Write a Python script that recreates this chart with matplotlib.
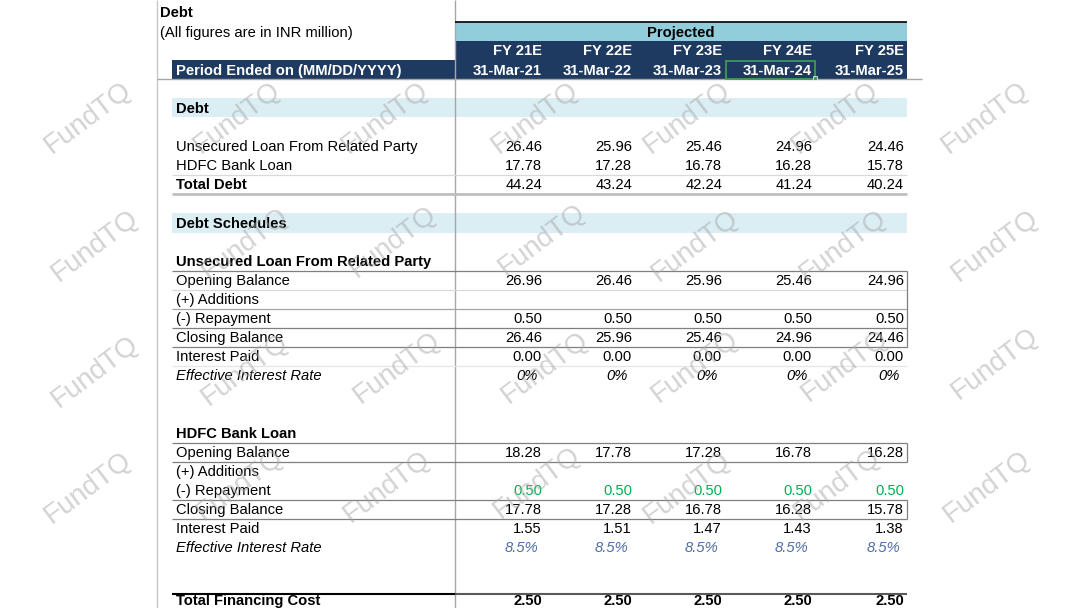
import matplotlib
matplotlib.use('Agg')
import matplotlib.pyplot as plt
from matplotlib.patches import Rectangle

plt.rcParams['font.family'] = ['Liberation Sans', 'DejaVu Sans']

# column headers
years = ['FY 21E', 'FY 22E', 'FY 23E', 'FY 24E', 'FY 25E']
dates = ['31-Mar-21', '31-Mar-22', '31-Mar-23', '31-Mar-24', '31-Mar-25']

# debt summary
unsecuredDebt = [26.46, 25.96, 25.46, 24.96, 24.46]
hdfcDebt = [17.78, 17.28, 16.78, 16.28, 15.78]
totalDebt = [44.24, 43.24, 42.24, 41.24, 40.24]

# unsecured loan schedule
unsecuredOpening = [26.96, 26.46, 25.96, 25.46, 24.96]
unsecuredRepayment = [0.50, 0.50, 0.50, 0.50, 0.50]
unsecuredClosing = [26.46, 25.96, 25.46, 24.96, 24.46]
unsecuredInterest = [0.00, 0.00, 0.00, 0.00, 0.00]
unsecuredRate = [0, 0, 0, 0, 0]

# hdfc loan schedule
hdfcOpening = [18.28, 17.78, 17.28, 16.78, 16.28]
hdfcRepayment = [0.50, 0.50, 0.50, 0.50, 0.50]
hdfcClosing = [17.78, 17.28, 16.78, 16.28, 15.78]
hdfcInterest = [1.55, 1.51, 1.47, 1.43, 1.38]
hdfcRate = [8.5, 8.5, 8.5, 8.5, 8.5]

totalFinancingCost = [2.50, 2.50, 2.50, 2.50, 2.50]

NAVY = '#1F3A60'
PROJ = '#92CDDC'
BAND = '#DAEEF3'
DARK = '#7F7F7F'
LIGHT = '#D9D9D9'
FS = 10.6

COL_LEFT = 455
COL_RIGHT = [545, 635, 725, 815, 907]
LABEL_X = 176

fig = plt.figure(figsize=(10.8, 6.08), dpi=100)
ax = fig.add_axes([0, 0, 1, 1])
ax.set_xlim(0, 1080)
ax.set_ylim(608, 0)
ax.axis('off')


def hline(y, x0, x1, color=DARK, lw=0.9):
	ax.plot([x0, x1], [y, y], color=color, lw=lw, solid_capstyle='butt', zorder=3)


def vline(x, y0, y1, color=DARK, lw=0.9):
	ax.plot([x, x], [y0, y1], color=color, lw=lw, solid_capstyle='butt', zorder=3)


def band(y0, y1, x0, x1, color):
	ax.add_patch(Rectangle((x0, y0), x1 - x0, y1 - y0, facecolor=color, edgecolor='none', zorder=1))


def drawRow(y, label, values=None, fmt='{:.2f}', weight='normal', style='normal', color='black', labelWeight=None, offset=3):
	y = y + 1
	if labelWeight is None:
		labelWeight = weight
	ax.text(LABEL_X, y, label, fontsize=FS, fontweight=labelWeight, fontstyle=style, va='center', ha='left', zorder=4)
	if values is None:
		return
	for right, v in zip(COL_RIGHT, values):
		ax.text(right - offset, y, fmt.format(v), fontsize=FS, fontweight=weight, fontstyle=style,
			color=color, va='center', ha='right', zorder=4)


# sheet frame lines
vline(157, 0, 608, color='#C8C8C8', lw=1.0)
vline(COL_LEFT, 0, 608, color='#A6A6A6', lw=1.0)
hline(79, 157, 922, color='#A6A6A6', lw=1.0)

# title block
ax.text(160, 13, 'Debt', fontsize=FS, fontweight='bold', va='center', ha='left')
ax.text(160, 33, '(All figures are in INR million)', fontsize=FS, va='center', ha='left')

# header
band(22, 41, COL_LEFT, 907, PROJ)
hline(21.5, COL_LEFT, 907, color='black', lw=1.2)
ax.text(681, 33, 'Projected', fontsize=FS, fontweight='bold', va='center', ha='center', zorder=4)
band(41, 79, COL_LEFT, 907, NAVY)
band(60, 79, 172, COL_LEFT, NAVY)
ax.text(LABEL_X, 71, 'Period Ended on (MM/DD/YYYY)', fontsize=FS, fontweight='bold', color='white', va='center', ha='left', zorder=4)
for right, yr, dt in zip(COL_RIGHT, years, dates):
	ax.text(right - 3, 51, yr, fontsize=FS, fontweight='bold', color='white', va='center', ha='right', zorder=4)
	ax.text(right - 3, 71, dt, fontsize=FS, fontweight='bold', color='white', va='center', ha='right', zorder=4)

# selected cell
ax.add_patch(Rectangle((726, 61), 89, 17.5, fill=False, edgecolor='#3E9A55', lw=1.3, zorder=5))
ax.add_patch(Rectangle((813, 76), 4, 4, facecolor='#3E9A55', edgecolor='white', lw=0.5, zorder=6))

# debt summary
band(98, 117, 172, 907, BAND)
drawRow(108, 'Debt', weight='bold')
drawRow(146, 'Unsecured Loan From Related Party', unsecuredDebt)
drawRow(165, 'HDFC Bank Loan', hdfcDebt)
hline(175, 172, 907, color=LIGHT)
drawRow(184, 'Total Debt', totalDebt, labelWeight='bold')
hline(194, 172, 907, color='#BFBFBF', lw=2.0)

# debt schedules
band(213, 233, 172, 907, BAND)
drawRow(223, 'Debt Schedules', weight='bold')

drawRow(261, 'Unsecured Loan From Related Party', weight='bold')
hline(270.5, 172, 907)
drawRow(280, 'Opening Balance', unsecuredOpening)
hline(289.5, 172, 907, color=LIGHT)
drawRow(299, '(+) Additions')
hline(309, 172, 907, color='#A6A6A6')
drawRow(318, '(-) Repayment', unsecuredRepayment)
hline(328, 172, 907)
drawRow(337, 'Closing Balance', unsecuredClosing)
hline(347, 172, 907)
drawRow(356, 'Interest Paid', unsecuredInterest)
hline(366, 172, 907, color='#E6E6E6')
drawRow(375, 'Effective Interest Rate', unsecuredRate, fmt='{:.0f}%', style='italic', offset=7)
vline(907, 270.5, 347)

drawRow(433, 'HDFC Bank Loan', weight='bold')
hline(442.5, 172, 907)
drawRow(452, 'Opening Balance', hdfcOpening)
hline(461.5, 172, 907)
drawRow(471, '(+) Additions')
drawRow(490, '(-) Repayment', hdfcRepayment, color='#00B050')
hline(499.5, 172, 907)
drawRow(509, 'Closing Balance', hdfcClosing)
hline(518.5, 172, 907)
drawRow(528, 'Interest Paid', hdfcInterest)
drawRow(547, 'Effective Interest Rate', hdfcRate, fmt='{:.1f}%', style='italic', color='#4F6EA6', offset=7)
ax.texts[-6].set_color('black')
vline(907, 442.5, 461.5)
vline(907, 499.5, 518.5)

hline(594, 172, COL_LEFT, color='black', lw=1.5)
hline(594, COL_LEFT, 907, color='#595959', lw=1.5)
drawRow(600, 'Total Financing Cost', totalFinancingCost, weight='bold')

# watermark
marks = [(88, 118), (237, 118), (385, 118), (535, 118), (687, 118), (835, 118), (985, 118),
	(95, 246), (245, 244), (393, 242), (542, 240), (695, 246), (843, 246), (995, 246),
	(95, 372), (245, 370), (397, 368), (545, 368), (695, 367), (845, 366), (995, 364),
	(88, 488), (240, 485), (387, 487), (537, 483), (687, 488), (837, 485), (987, 487)]
for mx, my in marks:
	ax.text(mx, my, 'FundTQ', fontsize=20, color='#A8A8A8', alpha=0.5, rotation=37,
		ha='center', va='center', rotation_mode='anchor', zorder=7)

fig.savefig('out.png', dpi=100)
